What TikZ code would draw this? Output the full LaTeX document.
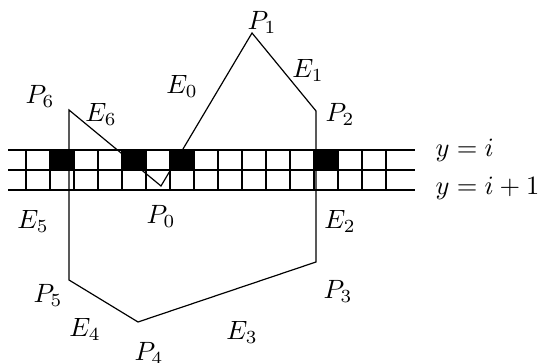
\documentclass[tikz,border=0pt]{standalone}
\usepackage{tikz}
\tikzset{
  gridline/.style={draw=black, line width=0.4pt},
  fullcell/.style={fill=black},
  polyedge/.style={draw=black, line width=0.45pt, line join=miter},
  plabel/.style={inner sep=0pt, font=\normalsize},
  rowlabel/.style={anchor=west, inner sep=0pt},
}

\begin{document}
\begin{tikzpicture}[x=0.378pt, y=-0.378pt]
  \useasboundingbox (0,0) rectangle (540,363);
  % polygon vertices
  \coordinate (p0) at (161,186);
  \coordinate (p1) at (252,33);
  \coordinate (p2) at (316,111);
  \coordinate (p3) at (316,262);
  \coordinate (p4) at (138,322);
  \coordinate (p5) at (69,280);
  \coordinate (p6) at (69,110);
  \draw[polyedge] (p0) -- (p1) -- (p2) -- (p3) -- (p4) -- (p5) -- (p6) -- cycle;
  % pixel rows y=i and y=i+1
  \foreach \cx in {50,122,170,314}
    \fill[fullcell] (\cx,150) rectangle ++(24,20);
  \foreach \ry in {150,170,190}
    \draw[gridline] (8,\ry) -- (415,\ry);
  \foreach \cx in {26,50,...,386}
    \draw[gridline] (\cx,150) -- (\cx,190);
  % vertex and edge labels
  \node[plabel] (lp0) at (161,216) {$P_0$};
  \node[plabel] (lp1) at (262,22) {$P_1$};
  \node[plabel] (lp2) at (340,114) {$P_2$};
  \node[plabel] (lp3) at (338,291) {$P_3$};
  \node[plabel] (lp4) at (149,353) {$P_4$};
  \node[plabel] (lp5) at (48,295) {$P_5$};
  \node[plabel] (lp6) at (40,96) {$P_6$};
  \node[plabel] (le0) at (182,86) {$E_0$};
  \node[plabel] (le1) at (308,70) {$E_1$};
  \node[plabel] (le2) at (340,221) {$E_2$};
  \node[plabel] (le3) at (242,332) {$E_3$};
  \node[plabel] (le4) at (85,329) {$E_4$};
  \node[plabel] (le5) at (33,221) {$E_5$};
  \node[plabel] (le6) at (101,114) {$E_6$};
  \node[rowlabel] (ri) at (435,150) {$y=i$};
  \node[rowlabel] (ri1) at (435,188) {$y=i+1$};
\end{tikzpicture}
\end{document}
